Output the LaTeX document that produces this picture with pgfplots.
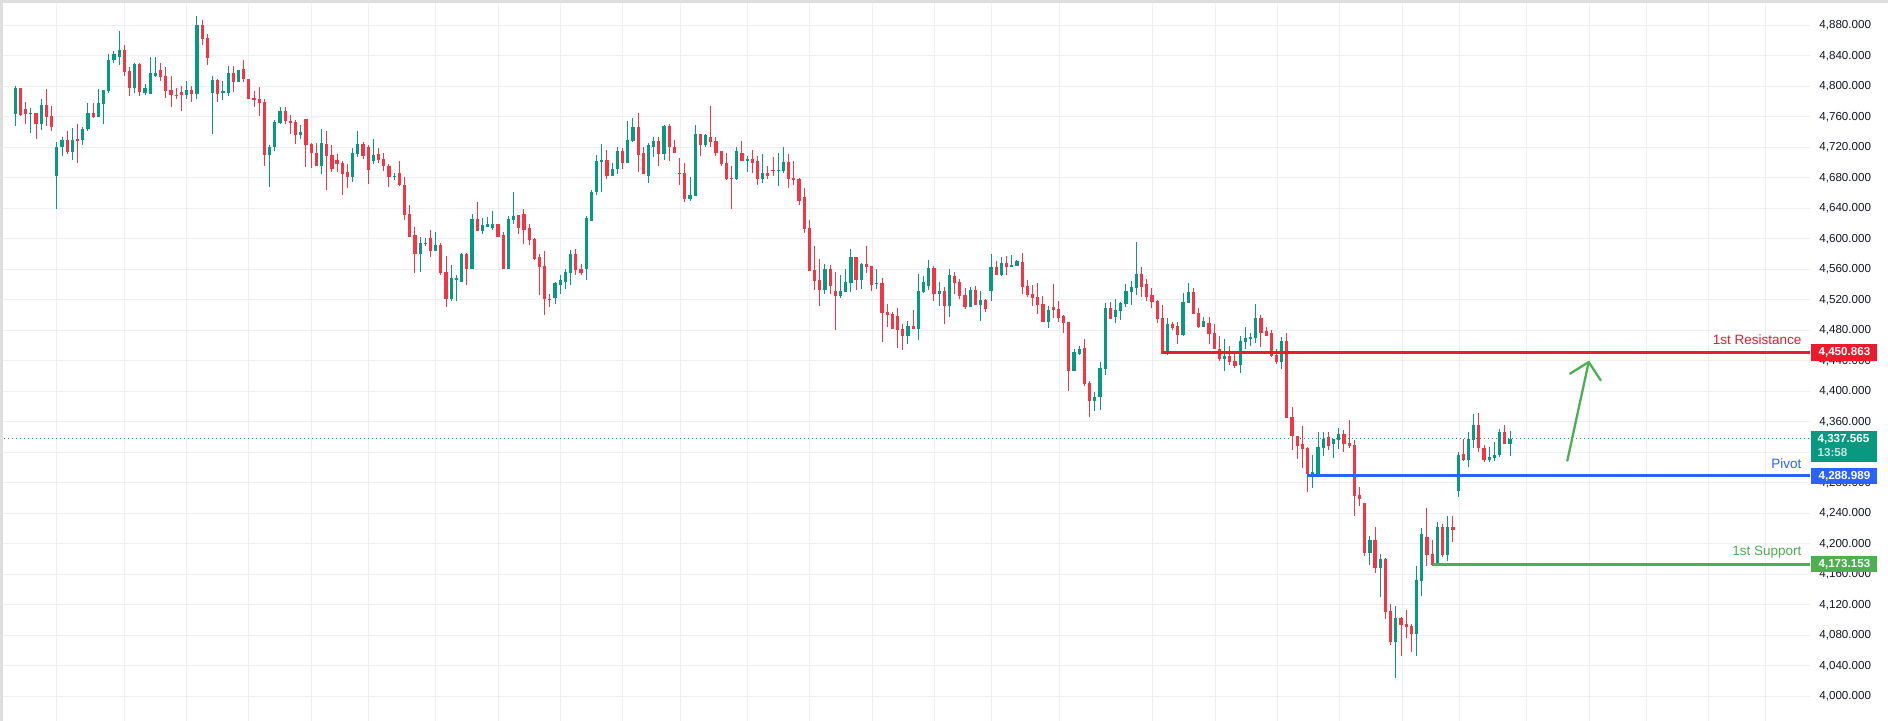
\documentclass[border=0pt]{standalone}
\usepackage{fontspec}
\setmainfont{Liberation Sans}
\usepackage{pgfplots}
\usepackage{pgfplotstable}
\pgfplotsset{compat=1.18}
\definecolor{upc}{HTML}{089981}
\definecolor{dnc}{HTML}{F23645}
\definecolor{gridc}{HTML}{EEEFF2}
\definecolor{resc}{HTML}{EC1A2B}
\definecolor{pivc}{HTML}{2962FF}
\definecolor{supc}{HTML}{4CAF50}
\definecolor{txtc}{HTML}{131722}
\definecolor{framec}{HTML}{DEDEDE}

\pgfplotstableread{
n o h l c
1 4764 4801 4748 4798
2 4798 4798 4761 4762
3 4770 4780 4750 4764
4 4764 4772 4739 4765
5 4765 4765 4731 4750
6 4750 4783 4743 4775
7 4775 4796 4748 4760
8 4761 4774 4741 4747
9 4682 4727 4639 4721
10 4720 4733 4709 4729
11 4729 4741 4711 4714
12 4714 4745 4703 4730
13 4730.3 4750 4700 4729.9
14 4729 4747 4723 4744
15 4744 4778 4742 4765
16 4765 4778 4758 4760
17 4760 4797 4760 4778
18 4777 4795 4751 4795
19 4794 4842 4791 4835
20 4835 4846 4830 4843
21 4838 4872 4828 4847
22 4847 4854 4813 4819
23 4820 4825 4787 4798
24 4798 4831 4791 4829
25 4829 4831 4787 4793
26 4791 4803 4788 4798
27 4790 4838 4790 4818
28 4814 4839 4812 4818
29 4822 4831 4807 4812
30 4813 4825 4785 4794
31 4795 4813 4773 4789
32 4789 4798 4783 4787
33 4792 4801 4768 4789
34 4789 4807 4783 4795
35 4795 4801 4779 4790
36 4790 4892 4783 4881
37 4880 4887 4854 4862
38 4863 4869 4828 4837
39 4791 4814 4737 4808
40 4808 4809 4779 4790
41 4792 4807 4782 4794
42 4791 4827 4787 4818
43 4818 4827 4793 4806
44 4806 4822 4806 4822
45 4823 4834 4806 4810
46 4810 4810 4783 4783
47 4784 4794 4773 4783
48 4784 4799 4761 4778
49 4780 4783 4696 4710
50 4710 4723 4668 4721
51 4720 4756 4715 4753
52 4752 4773 4751 4767
53 4767 4773 4750 4754
54 4755 4762 4737 4752
55 4753 4756 4724 4736
56 4736 4749 4731 4740
57 4757 4757 4694 4723
58 4724 4725 4693 4712
59 4713 4725 4695 4696
60 4696 4744 4685 4725
61 4724 4741 4664 4708
62 4710 4723 4687 4692
63 4703 4711 4687 4698
64 4700 4702 4658 4685
65 4687 4698 4666 4681
66 4681 4719 4674 4712
67 4711 4741 4707 4724
68 4724 4727 4704 4708
69 4721 4723 4672 4690
70 4702 4731 4698 4710
71 4711 4719 4699 4703
72 4704 4713 4689 4695
73 4696 4698 4668 4681
74 4681.5 4686 4677 4682.4
75 4686 4702 4669 4670
76 4670 4681 4624 4631
77 4632 4644 4603 4603
78 4605 4616 4555 4580
79 4580 4602 4557 4595
80 4594 4601 4590 4595
81 4601 4611 4576 4584
82 4584 4609 4584 4592
83 4592 4594 4552 4555
84 4556 4577 4510 4521
85 4521 4565 4519 4548
86 4547.6 4553 4518 4548
87 4543 4582 4543 4580
88 4580 4582 4540 4561
89 4560 4632 4560 4626
90 4626 4648 4610 4610
91 4610 4627 4606 4618
92 4615 4628 4615 4619
93 4614 4636 4612 4620
94 4620 4620 4603 4603
95 4605 4609 4560 4561
96 4561 4630 4561 4626
97 4624 4661 4620 4630
98 4631 4631 4606 4614
99 4633 4639 4593 4612
100 4614 4619 4592 4598
101 4600 4601 4572 4573
102 4576 4580 4526 4563
103 4564 4584 4500 4521
104 4521.5 4527 4510 4520.6
105 4523 4543 4514 4542
106 4540 4552 4527 4546
107 4544 4561 4534 4556
108 4555 4585 4540 4580
109 4580 4586 4553 4559
110 4560 4567 4553 4555
111 4560 4630 4546 4627
112 4624 4664 4624 4662
113 4662 4710 4657 4702
114 4702 4724 4661 4703
115 4703 4717 4678 4683
116 4683 4700 4682 4691
117 4692 4721 4685 4715
118 4715 4719 4692 4700
119 4700 4754 4700 4729
120 4728 4758 4727 4746
121 4746 4765 4687 4710
122 4712 4720 4685 4685
123 4683 4725 4673 4723
124 4721 4733 4707 4728
125 4728 4734 4696 4711
126 4711 4749 4703 4748
127 4748 4750 4702 4720
128 4721 4729 4712 4712
129 4686 4706 4670 4685.5
130 4686 4700 4648 4652
131 4652 4681 4649 4657
132 4656 4749 4656 4737
133 4737 4738 4708 4723
134 4723 4738 4721 4736
135 4734 4774 4720 4727
136 4728 4734 4708 4713
137 4715 4715 4695 4698
138 4700 4712 4677 4678
139 4679.5 4695 4639 4679
140 4678 4720 4677 4715
141 4713 4728 4702 4702
142 4702 4708 4687 4705
143 4704 4716 4686 4700
144 4702 4708 4670 4678
145 4678 4711 4673 4686
146 4686 4695 4678 4683
147 4690 4707 4683 4689.6
148 4689.6 4713 4669 4690.2
149 4689 4720 4686 4701
150 4701 4711 4666 4678
151 4679.3 4702 4670 4678.7
152 4679 4680 4644 4650
153 4655 4667 4608 4613
154 4614 4625 4558 4558
155 4559 4590 4533 4545
156 4546 4574 4512 4533
157 4533 4567 4527 4561
158 4561 4565 4527 4538
159 4532 4557 4480 4525
160 4525 4553 4522 4532
161 4530 4561 4530 4543
162 4542 4586 4530 4576
163 4576 4576 4533 4546
164 4546 4568 4534 4567
165 4567 4591 4555 4563
166 4564 4564 4531 4539
167 4541.4 4560 4534 4541.8
168 4542 4549 4465 4503
169 4504 4515 4484 4500
170 4501 4504 4482 4482
171 4499 4509 4457 4480
172 4482 4488 4454 4472
173 4472 4492 4462 4486
174 4486 4507 4482 4482
175 4482 4554 4467 4532
176 4530 4551 4529 4543
177 4538 4572 4533 4562
178 4562 4564 4518 4528
179 4528 4543 4512 4532
180 4532 4537 4488 4512
181 4512 4560 4497 4553
182 4551 4557 4528 4542
183 4543 4547 4521 4525
184 4526 4536 4508 4511
185 4511 4537 4511 4533
186 4533 4538 4513 4513
187 4513 4532 4492 4520
188 4520 4521 4504 4508
189 4532 4580 4518 4563
190 4563 4571 4553 4553
191 4553 4576 4551 4568
192 4568 4578 4553 4563
193 4563 4579 4563 4566
194 4564 4572 4564 4571
195 4570 4581 4528 4537
196 4538 4546 4524 4526
197 4528 4539 4512 4522
198 4524 4542 4501 4513
199 4515 4525 4491 4491
200 4491 4512 4483 4507
201 4511 4541 4496 4507
202 4508 4519 4491 4496
203 4499 4500 4477 4490
204 4491 4491 4401 4427
205 4427 4456 4427 4452
206 4449 4459 4448 4456
207 4457 4469 4407 4409
208 4411 4413 4366 4387
209 4387 4399 4374 4393
210 4392 4439 4375 4430
211 4429 4516 4421 4509
212 4509 4517 4495 4495
213 4498 4521 4490 4507
214 4505 4517 4494 4516
215 4515 4541 4511 4532
216 4530 4545 4513 4537
217 4536 4596 4526 4554
218 4554 4563 4524 4537
219 4541 4547 4519 4524
220 4526 4536 4509 4517
221 4519 4520 4490 4495
222 4496 4513 4449 4449
223 4449 4496 4448 4488
224 4488 4491 4480 4483
225 4486 4491 4462 4474
226 4474 4529 4473 4517
227 4516 4542 4516 4530
228 4530 4536 4501 4501
229 4503 4509 4483 4484
230 4484 4497 4484 4492
231 4489 4497 4462 4475
232 4476 4488 4456 4456
233 4456 4472 4440 4442
234 4442 4468 4427 4446
235 4446 4460 4435 4439
236 4440 4453 4431 4433
237 4435 4473 4424 4466
238 4464 4484 4456 4470
239 4469.5 4477 4460 4471
240 4470 4515 4464 4496
241 4496 4500 4458 4477
242 4479 4484 4472 4473
243 4476 4481 4445 4446
244 4448 4456 4436 4439
245 4439 4471 4429 4466
246 4466 4476 4365 4365
247 4366 4379 4323 4341
248 4342 4342 4311 4328
249 4331 4354 4299 4324
250 4325 4327 4268 4291
251 4291 4317 4273 4294
252 4292 4346 4287 4327
253 4325 4346 4315 4338
254 4340 4346 4323 4328
255 4331 4338 4312 4337
256 4336 4352 4324 4344
257 4344 4349 4321 4331
258 4332 4363 4325 4328
259 4329 4336 4236 4263
260 4264 4275 4250 4259
261 4254 4254 4184 4188
262 4188 4210 4172 4205
263 4205 4222 4162 4168
264 4168 4187 4130 4180
265 4180 4181 4101 4111
266 4112 4121 4067 4071
267 4071 4119 4024 4103
268 4103 4104 4053 4094
269 4095 4113 4077 4091
270 4092 4095 4058 4082
271 4082 4171 4053 4153
272 4151 4221 4132 4213
273 4209 4247 4171 4185
274 4187 4205 4171 4172
275 4172 4229 4171 4222
276 4222 4226 4183 4185
277 4185 4237 4178 4222
278 4222 4237 4202 4218
279 4269 4321 4262 4317
280 4318 4337 4308 4310
281 4310 4346 4301 4338
282 4336 4370 4325 4356
283 4356 4371 4321 4325
284 4326 4329 4307 4310
285 4310 4327 4307 4314
286 4313 4334 4308 4317
287 4316 4350 4314 4346
288 4346 4356 4331 4331
289 4331 4348 4315 4337.6
}\candles

\begin{document}
\begin{tikzpicture}
\path[use as bounding box] (0,0) rectangle (944pt,360.5pt);
\fill[white] (0,0) rectangle (944pt,360.5pt);
\begin{axis}[
  at={(0,0)}, anchor=south west,
  scale only axis, width=905pt, height=360.5pt,
  xmin=-1.95, xmax=346.8, ymin=3967.6, ymax=4913.2,
  axis line style={draw=none}, tick style={draw=none},
  major tick length=0pt,
  xtick={8.98,22.0,34.03,45.9,58.1,69.0,82.0,94.06,106.1,118.0,129.1,142.1,153.98,166.1,178.1,189.05,202.2,220.1,232.2,244.2,256.1,268.3,279.2,292.2,304.3,315.35,327.2,338.3},
  xticklabels={},
  ytick={4000,4040,4080,4120,4160,4200,4240,4280,4360,4400,4440,4480,4520,4560,4600,4640,4680,4720,4760,4800,4840,4880},
  extra y ticks={4320},
  extra y tick labels={},
  extra y tick style={grid=major},
  yticklabel pos=right,
  yticklabel style={anchor=west, inner sep=0pt, xshift=4.5pt, text=txtc,
    font=\fontsize{5.8pt}{6pt}\selectfont,
    /pgf/number format/.cd, fixed, fixed zerofill, precision=3, 1000 sep={,}, assume math mode=true},
  grid=major, grid style={draw=gridc, line width=0.5pt},
  unbounded coords=discard,
  clip=false,
]
% current price dotted line
\addplot[upc, line width=0.5pt, dash pattern=on 0.5pt off 1.5pt] coordinates {(-1.95,4337.565) (346.8,4337.565)};
% wicks
\addplot[draw=none, mark=none, error bars/.cd, y dir=both, y explicit, error mark=none,
  error bar style={draw=upc, line width=0.5pt}]
  table[x=n, y expr={(\thisrow{c}>=\thisrow{o}) ? ((\thisrow{h}+\thisrow{l})/2) : nan},
        y error expr={(\thisrow{h}-\thisrow{l})/2}] {\candles};
\addplot[draw=none, mark=none, error bars/.cd, y dir=both, y explicit, error mark=none,
  error bar style={draw=dnc, line width=0.5pt}]
  table[x=n, y expr={(\thisrow{c}<\thisrow{o}) ? ((\thisrow{h}+\thisrow{l})/2) : nan},
        y error expr={(\thisrow{h}-\thisrow{l})/2}] {\candles};
% bodies
\addplot[draw=none, mark=none, error bars/.cd, y dir=both, y explicit, error mark=none,
  error bar style={draw=upc, line width=1.6pt}]
  table[x=n, y expr={(\thisrow{c}>=\thisrow{o}) ? ((\thisrow{o}+\thisrow{c})/2) : nan},
        y error expr={max(abs(\thisrow{c}-\thisrow{o})/2,0.6)}] {\candles};
\addplot[draw=none, mark=none, error bars/.cd, y dir=both, y explicit, error mark=none,
  error bar style={draw=dnc, line width=1.6pt}]
  table[x=n, y expr={(\thisrow{c}<\thisrow{o}) ? ((\thisrow{o}+\thisrow{c})/2) : nan},
        y error expr={max(abs(\thisrow{c}-\thisrow{o})/2,0.6)}] {\candles};
% levels
\addplot[resc, line width=1.5pt] coordinates {(221.9,4450.863) (346.8,4450.863)};
\addplot[pivc, line width=1.5pt] coordinates {(249.8,4288.989) (346.8,4288.989)};
\addplot[supc, line width=1.5pt] coordinates {(274.2,4173.153) (346.8,4173.153)};
% arrow
\draw[supc, line width=1.15pt, line cap=round, line join=round]
  (axis cs:300.04,4308.98) -- (axis cs:304.16,4438.4);
\draw[supc, line width=1.15pt, line cap=round, line join=round]
  (axis cs:300.56,4423.1) -- (axis cs:304.16,4438.4) -- (axis cs:306.47,4414.4);
\coordinate (R) at (axis cs:346.8,4450.863);
\coordinate (P) at (axis cs:346.8,4288.989);
\coordinate (S) at (axis cs:346.8,4173.153);
\coordinate (C) at (axis cs:346.8,4337.565);
\end{axis}
% frame
\fill[framec] (0,0) rectangle (1.5pt,360.5pt);
\fill[framec] (0,359pt) rectangle (944pt,360.5pt);
% price tags
\node[fill=resc, text=white, anchor=west, minimum height=8.35pt, minimum width=33pt, inner sep=0pt,
  font=\fontsize{5.8pt}{6pt}\selectfont\bfseries] at ([xshift=0.5pt]R) {4,450.863};
\node[fill=pivc, text=white, anchor=west, minimum height=8pt, minimum width=33pt, inner sep=0pt,
  font=\fontsize{5.8pt}{6pt}\selectfont\bfseries] at ([xshift=0.5pt]P) {4,288.989};
\node[fill=supc, text=white, anchor=west, minimum height=8pt, minimum width=33pt, inner sep=0pt,
  font=\fontsize{5.8pt}{6pt}\selectfont\bfseries] at ([xshift=0.5pt]S) {4,173.153};
\fill[upc] ([xshift=0.5pt,yshift=3.8pt]C) rectangle ([xshift=33.5pt,yshift=-11.4pt]C);
\node[text=white, anchor=west, inner sep=0pt, font=\fontsize{5.8pt}{6pt}\selectfont\bfseries]
  at ([xshift=3.6pt]C) {4,337.565};
\node[text=white!75!upc, anchor=west, inner sep=0pt, font=\fontsize{5.8pt}{6pt}\selectfont\bfseries]
  at ([xshift=3.6pt,yshift=-6.8pt]C) {13:58};
% level names
\node[text=resc, anchor=east, inner sep=0pt, font=\fontsize{6.75pt}{7pt}\selectfont]
  at ([xshift=-4.15pt,yshift=6.25pt]R) {1st Resistance};
\node[text=pivc, anchor=east, inner sep=0pt, font=\fontsize{6.75pt}{7pt}\selectfont]
  at ([xshift=-4.15pt,yshift=6.3pt]P) {Pivot};
\node[text=supc, anchor=east, inner sep=0pt, font=\fontsize{6.75pt}{7pt}\selectfont]
  at ([xshift=-4.15pt,yshift=6pt]S) {1st Support};
\end{tikzpicture}
\end{document}
